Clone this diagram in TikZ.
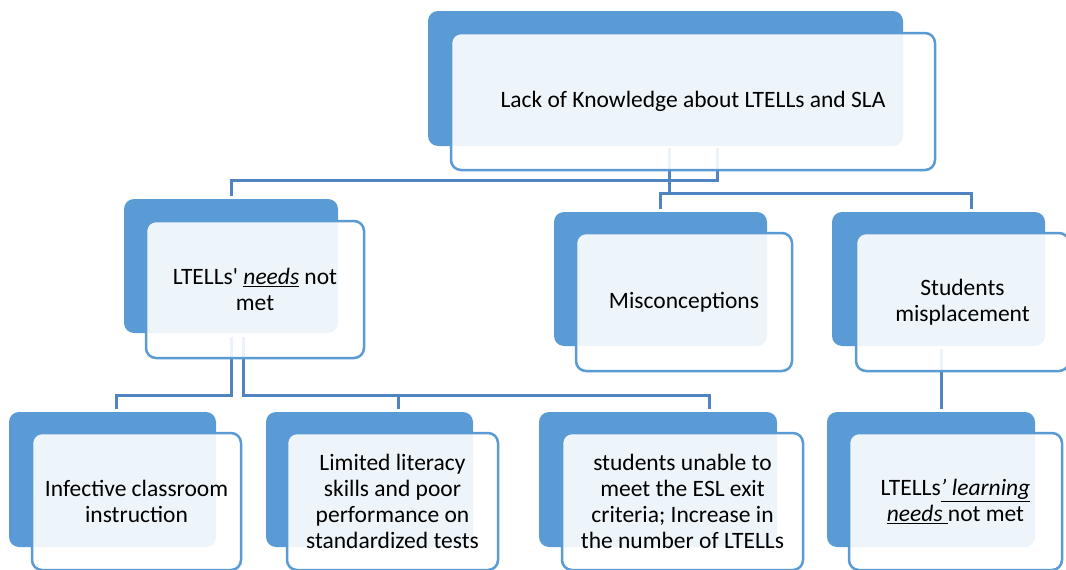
\documentclass[tikz,border=0pt]{standalone}
\usepackage{fontspec}
\setmainfont{Carlito}[Ligatures=TeXOff]
\usepackage{xcolor}
\definecolor{boxblue}{HTML}{5B9BD5}
\definecolor{linkblue}{HTML}{4F84C0}

\begin{document}
\begin{tikzpicture}[x=1pt, y=-1pt,
    back/.style={rectangle, rounded corners=10pt, fill=boxblue, inner sep=0pt},
    front/.style={rectangle, rounded corners=10pt, draw=boxblue, line width=2.5pt, fill=white, fill opacity=0.9, text opacity=1, align=center, inner sep=0pt, font=\fontsize{23.5}{26}\selectfont},
    link/.style={draw=linkblue, line width=3pt}]
    \useasboundingbox (0,0) rectangle (1066,570);

    % back panels
    \node [back, minimum width=475pt, minimum height=135pt] (topback) at (665.5,78.5) {};
    \node [back, minimum width=214pt, minimum height=134pt] (needsback) at (231,266) {};
    \node [back, minimum width=213pt, minimum height=134pt] (miscback) at (660.5,279) {};
    \node [back, minimum width=213pt, minimum height=134pt] (placeback) at (938.5,279) {};
    \node [back, minimum width=207pt, minimum height=135pt] (infback) at (112.5,479.5) {};
    \node [back, minimum width=207pt, minimum height=135pt] (litback) at (369.5,479.5) {};
    \node [back, minimum width=238pt, minimum height=135pt] (exitback) at (658,479.5) {};
    \node [back, minimum width=208pt, minimum height=135pt] (learnback) at (931,479.5) {};

    % connectors
    \path [link] ([xshift=51.5pt, yshift=-2pt]topback.south) |- ([yshift=18pt]needsback.north) -- ([yshift=3pt]needsback.north);
    \path [link] ([xshift=3.5pt, yshift=-2pt]topback.south) |- ([yshift=18pt]miscback.north) -- ([yshift=3pt]miscback.north);
    \path [link] ([xshift=3.5pt, yshift=-2pt]topback.south) |- ([xshift=32.5pt, yshift=18pt]placeback.north) -- ([xshift=32.5pt, yshift=3pt]placeback.north);
    \path [link] ([yshift=-4pt]needsback.south) |- ([xshift=3.5pt, yshift=16pt]infback.north) -- ([xshift=3.5pt, yshift=3pt]infback.north);
    \path [link] ([xshift=12pt, yshift=-4pt]needsback.south) |- ([xshift=28.5pt, yshift=16pt]litback.north) -- ([xshift=28.5pt, yshift=3pt]litback.north);
    \path [link] ([xshift=12pt, yshift=-4pt]needsback.south) |- ([xshift=51pt, yshift=16pt]exitback.north) -- ([xshift=51pt, yshift=3pt]exitback.north);
    \path [link] ([xshift=2.5pt, yshift=-3pt]placeback.south) -- ([xshift=10pt, yshift=3pt]learnback.north);

    % front panels with the texts
    \node [front, minimum width=484pt, minimum height=137pt] (lack) at (693,101.5) {Lack of Knowledge about LTELLs and SLA};
    \node [front, minimum width=218pt, minimum height=137pt] (needs) at (255,289.5) {LTELLs' \underline{\textit{needs}} not\\met};
    \node [front, minimum width=216pt, minimum height=138pt] (misc) at (684,302) {Misconceptions};
    \node [front, minimum width=213pt, minimum height=138pt] (place) at (962.5,302) {Students\\misplacement};
    \node [front, minimum width=209pt, minimum height=137pt] (inf) at (136.5,501.5) {Infective classroom\\instruction};
    \node [front, minimum width=211pt, minimum height=137pt] (lit) at (392.5,501.5) {Limited literacy\\skills and poor\\performance on\\standardized tests};
    \node [front, minimum width=241pt, minimum height=137pt] (exit) at (682.5,501.5) {students unable to\\meet the ESL exit\\criteria; Increase in\\the number of LTELLs};
    \node [front, minimum width=213pt, minimum height=137pt] (learn) at (955.5,501.5) {LTELLs\underline{\textit{’ learning}}\\\underline{\textit{needs}\ }not met};
\end{tikzpicture}
\end{document}
